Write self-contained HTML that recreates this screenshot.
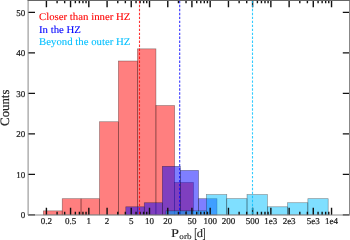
<!DOCTYPE html>
<html><head><meta charset="utf-8"><style>
html,body{margin:0;padding:0;background:#fff;}
body{width:350px;height:240px;overflow:hidden;}
svg{display:block;will-change:transform;font-family:"Liberation Serif",serif;}
text{text-rendering:geometricPrecision;}
</style></head><body>
<svg width="350" height="240" viewBox="0 0 350 240">
<rect x="43.30" y="210.85" width="18.90" height="4.05" fill="#ff0000" fill-opacity="0.5" stroke="#000" stroke-opacity="0.45" stroke-width="0.6"/>
<rect x="62.20" y="198.70" width="18.85" height="16.20" fill="#ff0000" fill-opacity="0.5" stroke="#000" stroke-opacity="0.45" stroke-width="0.6"/>
<rect x="81.05" y="198.70" width="18.45" height="16.20" fill="#ff0000" fill-opacity="0.5" stroke="#000" stroke-opacity="0.45" stroke-width="0.6"/>
<rect x="99.50" y="121.75" width="18.85" height="93.15" fill="#ff0000" fill-opacity="0.5" stroke="#000" stroke-opacity="0.45" stroke-width="0.6"/>
<rect x="118.35" y="61.00" width="19.05" height="153.90" fill="#ff0000" fill-opacity="0.5" stroke="#000" stroke-opacity="0.45" stroke-width="0.6"/>
<rect x="137.40" y="48.85" width="18.55" height="166.05" fill="#ff0000" fill-opacity="0.5" stroke="#000" stroke-opacity="0.45" stroke-width="0.6"/>
<rect x="155.95" y="105.55" width="18.70" height="109.35" fill="#ff0000" fill-opacity="0.5" stroke="#000" stroke-opacity="0.45" stroke-width="0.6"/>
<rect x="174.65" y="182.50" width="18.75" height="32.40" fill="#ff0000" fill-opacity="0.5" stroke="#000" stroke-opacity="0.45" stroke-width="0.6"/>
<rect x="125.80" y="206.80" width="18.45" height="8.10" fill="#0000ff" fill-opacity="0.5" stroke="#000" stroke-opacity="0.45" stroke-width="0.6"/>
<rect x="144.25" y="202.75" width="18.05" height="12.15" fill="#0000ff" fill-opacity="0.5" stroke="#000" stroke-opacity="0.45" stroke-width="0.6"/>
<rect x="162.30" y="166.30" width="18.05" height="48.60" fill="#0000ff" fill-opacity="0.5" stroke="#000" stroke-opacity="0.45" stroke-width="0.6"/>
<rect x="180.35" y="170.35" width="18.25" height="44.55" fill="#0000ff" fill-opacity="0.5" stroke="#000" stroke-opacity="0.45" stroke-width="0.6"/>
<rect x="198.60" y="198.70" width="18.40" height="16.20" fill="#0000ff" fill-opacity="0.5" stroke="#000" stroke-opacity="0.45" stroke-width="0.6"/>
<rect x="165.92" y="210.85" width="20.28" height="4.05" fill="#00bfff" fill-opacity="0.5" stroke="#000" stroke-opacity="0.45" stroke-width="0.6"/>
<rect x="186.20" y="210.85" width="20.28" height="4.05" fill="#00bfff" fill-opacity="0.5" stroke="#000" stroke-opacity="0.45" stroke-width="0.6"/>
<rect x="206.48" y="194.65" width="20.28" height="20.25" fill="#00bfff" fill-opacity="0.5" stroke="#000" stroke-opacity="0.45" stroke-width="0.6"/>
<rect x="226.76" y="198.70" width="20.28" height="16.20" fill="#00bfff" fill-opacity="0.5" stroke="#000" stroke-opacity="0.45" stroke-width="0.6"/>
<rect x="247.04" y="194.65" width="20.28" height="20.25" fill="#00bfff" fill-opacity="0.5" stroke="#000" stroke-opacity="0.45" stroke-width="0.6"/>
<rect x="267.32" y="206.80" width="20.28" height="8.10" fill="#00bfff" fill-opacity="0.5" stroke="#000" stroke-opacity="0.45" stroke-width="0.6"/>
<rect x="287.60" y="202.75" width="20.28" height="12.15" fill="#00bfff" fill-opacity="0.5" stroke="#000" stroke-opacity="0.45" stroke-width="0.6"/>
<rect x="307.88" y="198.70" width="20.28" height="16.20" fill="#00bfff" fill-opacity="0.5" stroke="#000" stroke-opacity="0.45" stroke-width="0.6"/>
<path d="M46.41 0V7.3M46.41 215V207.7M70.55 0V7.3M70.55 215V207.7M88.82 0V7.3M88.82 215V207.7M107.09 0V7.3M107.09 215V207.7M131.23 0V7.3M131.23 215V207.7M149.50 0V7.3M149.50 215V207.7M167.77 0V7.3M167.77 215V207.7M191.91 0V7.3M191.91 215V207.7M210.18 0V7.3M210.18 215V207.7M228.45 0V7.3M228.45 215V207.7M252.59 0V7.3M252.59 215V207.7M270.86 0V7.3M270.86 215V207.7M289.13 0V7.3M289.13 215V207.7M313.27 0V7.3M313.27 215V207.7M331.54 0V7.3M331.54 215V207.7M57.09 0V3.2M57.09 215V211.8M64.67 0V3.2M64.67 215V211.8M75.36 0V3.2M75.36 215V211.8M79.42 0V3.2M79.42 215V211.8M82.94 0V3.2M82.94 215V211.8M86.04 0V3.2M86.04 215V211.8M117.77 0V3.2M117.77 215V211.8M125.35 0V3.2M125.35 215V211.8M136.04 0V3.2M136.04 215V211.8M140.10 0V3.2M140.10 215V211.8M143.62 0V3.2M143.62 215V211.8M146.72 0V3.2M146.72 215V211.8M178.45 0V3.2M178.45 215V211.8M186.03 0V3.2M186.03 215V211.8M196.72 0V3.2M196.72 215V211.8M200.78 0V3.2M200.78 215V211.8M204.30 0V3.2M204.30 215V211.8M207.40 0V3.2M207.40 215V211.8M239.13 0V3.2M239.13 215V211.8M246.71 0V3.2M246.71 215V211.8M257.40 0V3.2M257.40 215V211.8M261.46 0V3.2M261.46 215V211.8M264.98 0V3.2M264.98 215V211.8M268.08 0V3.2M268.08 215V211.8M299.81 0V3.2M299.81 215V211.8M307.39 0V3.2M307.39 215V211.8M318.08 0V3.2M318.08 215V211.8M322.14 0V3.2M322.14 215V211.8M325.66 0V3.2M325.66 215V211.8M328.76 0V3.2M328.76 215V211.8M28 214.90H35M349.5 214.90H342.8M28 174.40H35M349.5 174.40H342.8M28 133.90H35M349.5 133.90H342.8M28 93.40H35M349.5 93.40H342.8M28 52.90H35M349.5 52.90H342.8M28 12.40H35M349.5 12.40H342.8" stroke="#111" stroke-width="1.4" fill="none"/>
<line x1="139.5" y1="0" x2="139.5" y2="215" stroke="#ff0000" stroke-width="1.1" stroke-opacity="0.8" stroke-dasharray="2.4,1.58" stroke-dashoffset="3.18"/>
<line x1="179.7" y1="0" x2="179.7" y2="215" stroke="#0000ff" stroke-width="1.1" stroke-opacity="0.8" stroke-dasharray="2.4,1.58" stroke-dashoffset="3.18"/>
<line x1="252.5" y1="0" x2="252.5" y2="215" stroke="#00bfff" stroke-width="1.1" stroke-opacity="0.8" stroke-dasharray="2.4,1.58" stroke-dashoffset="3.18"/>
<path d="M28 215H349.5V0M28.1 0V215" fill="none" stroke="#888" stroke-width="1"/>
<rect x="27.6" y="0" width="322.4" height="1" fill="#666"/>
<g font-size="9" fill="#222" stroke="#222" stroke-width="0.22"><text x="46.41" y="224" text-anchor="middle">0.2</text><text x="70.55" y="224" text-anchor="middle">0.5</text><text x="88.82" y="224" text-anchor="middle">1</text><text x="107.09" y="224" text-anchor="middle">2</text><text x="131.23" y="224" text-anchor="middle">5</text><text x="149.50" y="224" text-anchor="middle">10</text><text x="167.77" y="224" text-anchor="middle">20</text><text x="191.91" y="224" text-anchor="middle">50</text><text x="210.18" y="224" text-anchor="middle">100</text><text x="228.45" y="224" text-anchor="middle">200</text><text x="252.59" y="224" text-anchor="middle">500</text><text x="270.86" y="224" text-anchor="middle">1e3</text><text x="289.13" y="224" text-anchor="middle">2e3</text><text x="313.27" y="224" text-anchor="middle">5e3</text><text x="331.54" y="224" text-anchor="middle">1e4</text><text x="25.3" y="218.20" text-anchor="end">0</text><text x="25.3" y="177.70" text-anchor="end">10</text><text x="25.3" y="137.20" text-anchor="end">20</text><text x="25.3" y="96.70" text-anchor="end">30</text><text x="25.3" y="56.20" text-anchor="end">40</text><text x="25.3" y="15.70" text-anchor="end">50</text></g>
<g font-size="10.3"><text x="39" y="19.7" fill="#ff0000" stroke="#ff0000" stroke-width="0.1" lengthAdjust="spacingAndGlyphs" textLength="91.4">Closer than inner HZ</text><text x="39" y="32.6" fill="#0000ff" stroke="#0000ff" stroke-width="0.1" lengthAdjust="spacingAndGlyphs" textLength="41.9">In the HZ</text><text x="39" y="44.6" fill="#00bfff" stroke="#00bfff" stroke-width="0.1" lengthAdjust="spacingAndGlyphs" textLength="91.4">Beyond the outer HZ</text></g>
<text x="170.9" y="236.7" font-size="11.75" textLength="7.98" fill="#222" stroke="#222" stroke-width="0.12" lengthAdjust="spacingAndGlyphs">P</text>
<text x="179.35" y="239" font-size="8.07" textLength="12.15" fill="#222" stroke="#222" stroke-width="0.12" lengthAdjust="spacingAndGlyphs">orb</text>
<text x="194.2" y="238" font-size="14" textLength="3.0" fill="#222" stroke="#222" stroke-width="0.12" lengthAdjust="spacingAndGlyphs">[</text>
<text x="196.8" y="237.1" font-size="11.6" textLength="6.2" fill="#222" stroke="#222" stroke-width="0.12" lengthAdjust="spacingAndGlyphs">d</text>
<text x="202.4" y="238" font-size="14" textLength="3.05" fill="#222" stroke="#222" stroke-width="0.12" lengthAdjust="spacingAndGlyphs">]</text>
<text font-size="12.8" fill="#222" stroke="#222" stroke-width="0.2" transform="translate(8.5,125.9) rotate(-90)">Counts</text>
</svg>
</body></html>
